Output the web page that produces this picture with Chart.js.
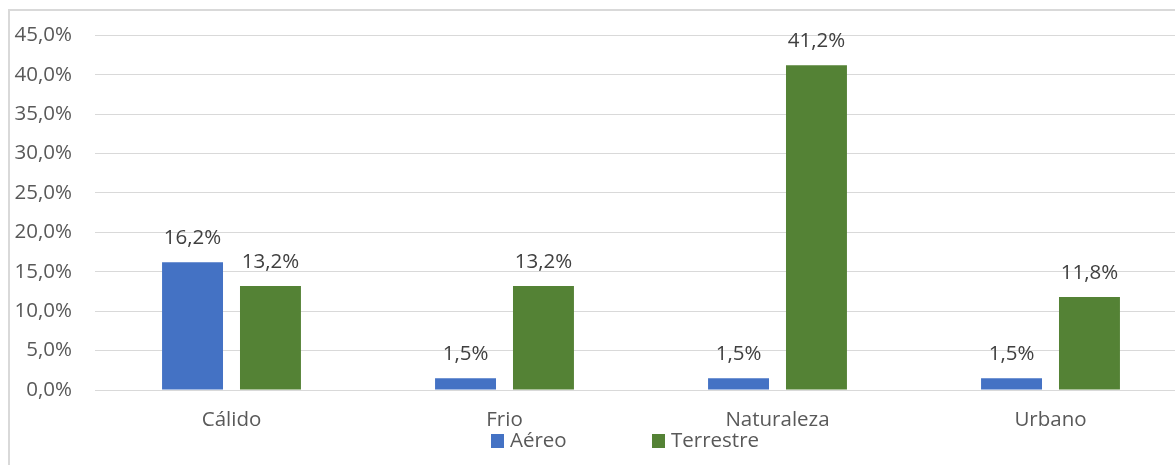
<!DOCTYPE html>
<html lang="es">
<head>
<meta charset="utf-8">
<script src="https://cdn.jsdelivr.net/npm/chart.js@4.4.1/dist/chart.umd.min.js"></script>
<style>
    html, body { margin: 0; padding: 0; background: #fff; overflow: hidden; }
    #marco {
        position: absolute; left: 8px; top: 9px;
        width: 1250px; height: 520px;
        border: 2px solid #d9d9d9;
    }
    #grafico-box { position: absolute; left: 0; top: 0; width: 1200px; height: 465px; }
</style>
</head>
<body>
<div id="marco"></div>
<div id="grafico-box"><canvas id="grafico"></canvas></div>
<script>
const categorias = ['Cálido', 'Frio', 'Naturaleza', 'Urbano'];
const aereo = [16.2, 1.5, 1.5, 1.5];
const terrestre = [13.2, 13.2, 41.2, 11.8];
const ticksY = [0, 5, 10, 15, 20, 25, 30, 35, 40, 45];

const FUENTE = '"Open Sans", "Noto Sans", sans-serif';
const TAM = 20.5;

function formatoPct(v) {
    return v.toFixed(1).replace('.', ',') + '%';
}

// etiquetas de valor encima de cada barra
const etiquetasValor = {
    id: 'etiquetasValor',
    afterDatasetsDraw(chart) {
        const ctx = chart.ctx;
        ctx.save();
        ctx.font = TAM + 'px ' + FUENTE;
        ctx.fillStyle = '#404040';
        ctx.textAlign = 'center';
        ctx.textBaseline = 'middle';
        chart.data.datasets.forEach((ds, i) => {
            chart.getDatasetMeta(i).data.forEach((bar, j) => {
                ctx.fillText(formatoPct(ds.data[j]), bar.x, bar.y - 24);
            });
        });
        ctx.restore();
    }
};

// leyenda inferior con cuadros, ancho fijo por elemento
const leyendaAbajo = {
    id: 'leyendaAbajo',
    afterDraw(chart) {
        const ctx = chart.ctx;
        const area = chart.chartArea;
        const x0 = (area.left + area.right) / 2 - 150;
        const y = 441;
        ctx.save();
        ctx.font = TAM + 'px ' + FUENTE;
        ctx.textBaseline = 'middle';
        ctx.textAlign = 'left';
        chart.data.datasets.forEach((ds, i) => {
            const x = x0 + i * 161;
            ctx.fillStyle = ds.backgroundColor;
            ctx.fillRect(x, y - 7, 13, 14);
            ctx.fillStyle = '#595959';
            ctx.fillText(ds.label, x + 19, y);
        });
        ctx.restore();
    }
};

const ctx = document.getElementById('grafico').getContext('2d');

new Chart(ctx, {
    type: 'bar',
    data: {
        labels: categorias,
        datasets: [
            { label: 'Aéreo', data: aereo, backgroundColor: '#4472C4' },
            { label: 'Terrestre', data: terrestre, backgroundColor: '#548235' }
        ]
    },
    options: {
        responsive: true,
        maintainAspectRatio: false,
        animation: false,
        categoryPercentage: 0.571,
        barPercentage: 0.782,
        layout: { padding: { top: 32, right: 13, bottom: 0, left: 0 } },
        scales: {
            x: {
                grid: { display: false, drawTicks: false },
                border: { display: false },
                ticks: {
                    padding: 18,
                    color: '#595959',
                    font: { family: FUENTE, size: TAM }
                },
                afterFit(scale) { scale.height = 75; }
            },
            y: {
                min: 0,
                max: 45,
                afterBuildTicks(scale) {
                    scale.ticks = ticksY.map(v => ({ value: v }));
                },
                grid: { color: '#d9d9d9', lineWidth: 1, drawTicks: false },
                border: { display: false },
                ticks: {
                    padding: 23,
                    color: '#595959',
                    font: { family: FUENTE, size: TAM },
                    callback: function(value) {
                        return formatoPct(value);
                    }
                },
                afterFit(scale) { scale.width = 95; }
            }
        },
        plugins: {
            legend: { display: false },
            tooltip: { enabled: false }
        }
    },
    plugins: [etiquetasValor, leyendaAbajo]
});
</script>
</body>
</html>
